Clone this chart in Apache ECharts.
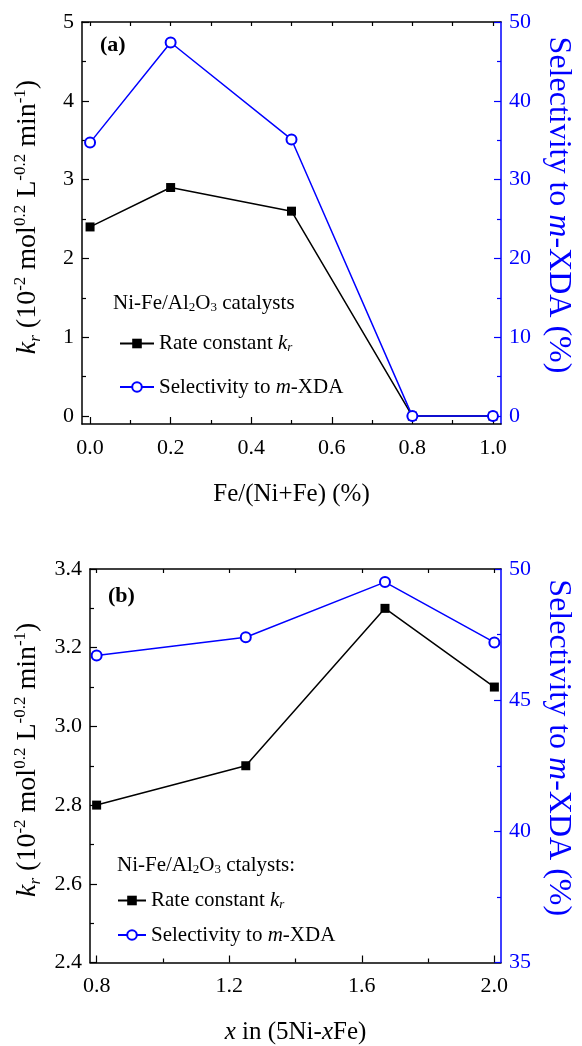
<!DOCTYPE html>
<html>
<head>
<meta charset="utf-8">
<script src="https://cdn.jsdelivr.net/npm/echarts@6/dist/echarts.min.js"></script>
<style>
  html, body { margin: 0; padding: 0; background: #fff; }
  #chart { width: 582px; height: 1046px; }
</style>
</head>
<body>
<div id="chart"></div>
<script>
// panel (a)
const feRatio = [0, 0.2, 0.5, 0.8, 1.0];
const rateA = [2.4, 2.9, 2.6, 0, 0];
const selA = [34.7, 47.4, 35.1, 0, 0];
// panel (b)
const xFe = [0.8, 1.25, 1.67, 2.0];
const rateB = [2.8, 2.9, 3.3, 3.1];
const selB = [46.7, 47.4, 49.5, 47.2];

// tick labels
const ticksAx = [0, 0.2, 0.4, 0.6, 0.8, 1.0];
const minorAx = [0.1, 0.3, 0.5, 0.7, 0.9];
const ticksAyL = [0, 1, 2, 3, 4, 5];
const minorAyL = [0.5, 1.5, 2.5, 3.5, 4.5];
const ticksAyR = [0, 10, 20, 30, 40, 50];
const minorAyR = [5, 15, 25, 35, 45];
const ticksBx = [0.8, 1.2, 1.6, 2.0];
const minorBx = [1.0, 1.4, 1.8];
const ticksByL = [2.4, 2.6, 2.8, 3.0, 3.2, 3.4];
const minorByL = [2.5, 2.7, 2.9, 3.1, 3.3];
const ticksByR = [35, 40, 45, 50];
const minorByR = [37.5, 42.5, 47.5];

const FONT = 'Liberation Serif';
const BLUE = '#0000ff';

function tok(size, lh, extra) {
  return Object.assign({ fontFamily: FONT, fontSize: size, lineHeight: lh, color: '#000',
    fontWeight: 'normal', verticalAlign: 'middle' }, extra || {});
}

// left axis title
const kRich = {
  n: tok(28, 32),
  i: tok(28, 32, { fontStyle: 'italic' }),
  sup: tok(17, 16, { verticalAlign: 'top' }),
  subi: tok(17, 16, { fontStyle: 'italic', verticalAlign: 'bottom' })
};
// right axis title
const sRich = {
  n: tok(32, 34, { color: BLUE }),
  i: tok(32, 34, { color: BLUE, fontStyle: 'italic' })
};
// x axis titles
const xRich = {
  n: tok(25, 28),
  i: tok(25, 28, { fontStyle: 'italic' })
};
// legend + header
const legRich = {
  n: tok(21, 22),
  i: tok(21, 22, { fontStyle: 'italic' }),
  sub: tok(13, 12, { verticalAlign: 'bottom' }),
  subi: tok(13, 12, { fontStyle: 'italic', verticalAlign: 'bottom' })
};

const kName = '{i|k}{subi|r}{n| (10}{sup|-2}{n| mol}{sup|0.2}{n| L}{sup|-0.2}{n| min}{sup|-1}{n|)}';
const selName = '{n|Selectivity to }{i|m}{n|-XDA (%)}';

function fmt1(v) { return v.toFixed(1); }
function fmt0(v) { return String(Math.round(v)); }

// main + minor tick axes, plus a top mirror with ticks
function xAxes(grid, min, max, major, minor, top, title) {
  return [
    {
      type: 'value', gridIndex: grid, min: min, max: max, position: 'bottom',
      splitLine: { show: false },
      axisLine: { onZero: false, lineStyle: { color: '#000', width: 1.5 } },
      axisTick: { inside: true, length: 7, customValues: major, lineStyle: { color: '#000', width: 1.2 } },
      axisLabel: { customValues: major, formatter: fmt1, color: '#000', fontFamily: FONT, fontSize: 22, margin: 13 },
      name: title, nameLocation: 'middle', nameGap: 56,
      nameTextStyle: { rich: xRich }
    },
    {
      type: 'value', gridIndex: grid, min: min, max: max, position: 'bottom',
      splitLine: { show: false }, axisLine: { show: false, onZero: false }, axisLabel: { show: false },
      axisTick: { inside: true, length: 4, customValues: minor, lineStyle: { color: '#000', width: 1.2 } }
    },
    {
      type: 'value', gridIndex: grid, min: min, max: max, position: 'top',
      splitLine: { show: false }, axisLabel: { show: false },
      axisLine: { onZero: false, lineStyle: { color: '#000', width: 1.5 } },
      axisTick: { inside: true, length: 4, customValues: top, lineStyle: { color: '#000', width: 1.2 } }
    }
  ];
}

function yAxes(grid, minL, maxL, majL, minrL, fmtL, minR, maxR, majR, minrR) {
  return [
    {
      type: 'value', gridIndex: grid, min: minL, max: maxL, position: 'left',
      splitLine: { show: false },
      axisLine: { show: true, onZero: false, lineStyle: { color: '#000', width: 1.5 } },
      axisTick: { inside: true, length: 7, customValues: majL, lineStyle: { color: '#000', width: 1.2 } },
      axisLabel: { customValues: majL, formatter: fmtL, color: '#000', fontFamily: FONT, fontSize: 22, margin: 8 },
      name: kName, nameLocation: 'middle', nameRotate: 90, nameGap: 38,
      nameTextStyle: { rich: kRich, padding: [0, 0, 0, 12] }
    },
    {
      type: 'value', gridIndex: grid, min: minL, max: maxL, position: 'left',
      splitLine: { show: false }, axisLine: { show: false, onZero: false }, axisLabel: { show: false },
      axisTick: { inside: true, length: 4, customValues: minrL, lineStyle: { color: '#000', width: 1.2 } }
    },
    {
      type: 'value', gridIndex: grid, min: minR, max: maxR, position: 'right',
      splitLine: { show: false },
      axisLine: { show: true, onZero: false, lineStyle: { color: BLUE, width: 1.5 } },
      axisTick: { inside: true, length: 7, customValues: majR, lineStyle: { color: BLUE, width: 1.2 } },
      axisLabel: { customValues: majR, formatter: fmt0, color: BLUE, fontFamily: FONT, fontSize: 22, margin: 8 },
      name: selName, nameLocation: 'middle', nameRotate: -90, nameGap: 40,
      nameTextStyle: { rich: sRich, padding: [0, 36, 0, 0] }
    },
    {
      type: 'value', gridIndex: grid, min: minR, max: maxR, position: 'right',
      splitLine: { show: false }, axisLine: { show: false, onZero: false }, axisLabel: { show: false },
      axisTick: { inside: true, length: 4, customValues: minrR, lineStyle: { color: BLUE, width: 1.2 } }
    }
  ];
}

function pairs(xs, ys) { return xs.map((x, i) => [x, ys[i]]); }

function kSeries(xi, yi, data) {
  return {
    name: 'kr', type: 'line', xAxisIndex: xi, yAxisIndex: yi, data: data,
    symbol: 'rect', symbolSize: 9, z: 3,
    lineStyle: { color: '#000', width: 1.5 },
    itemStyle: { color: '#000' }
  };
}
function sSeries(xi, yi, data) {
  return {
    name: 'sel', type: 'line', xAxisIndex: xi, yAxisIndex: yi, data: data,
    symbol: 'circle', symbolSize: 10, z: 4,
    lineStyle: { color: BLUE, width: 1.5 },
    itemStyle: { color: '#fff', borderColor: BLUE, borderWidth: 2 }
  };
}

function legendFmt(name) {
  return name === 'kr' ? '{n|Rate constant }{i|k}{subi|r}' : '{n|Selectivity to }{i|m}{n|-XDA}';
}

const labelStyle = { fontFamily: FONT, fontSize: 22, fontWeight: 'bold', color: '#000' };

const chart = echarts.init(document.getElementById('chart'));
chart.setOption({
  animation: false,
  backgroundColor: '#fff',
  grid: [
    { left: 82, right: 74, top: 22, height: 402 },
    { left: 90, right: 66, top: 569, height: 402 }
  ],
  xAxis: xAxes(0, -0.02, 1.02, ticksAx, minorAx, minorAx.concat(ticksAx),
      '{n|Fe/(Ni+Fe) (%)}')
    .concat(xAxes(1, 0.78, 2.02, ticksBx, minorBx, minorBx.concat(ticksBx),
      '{i|x}{n| in (5Ni-}{i|x}{n|Fe)}')),
  yAxis: yAxes(0, -0.1, 5, ticksAyL, minorAyL, fmt0, -1, 50, ticksAyR, minorAyR)
    .concat(yAxes(1, 2.4, 3.4, ticksByL, minorByL, fmt1, 35, 50, ticksByR, minorByR)),
  title: [
    { text: '(a)', left: 100, top: 34, padding: 0, textStyle: labelStyle },
    { text: '(b)', left: 108, top: 585, padding: 0, textStyle: labelStyle },
    { text: '{n|Ni-Fe/Al}{sub|2}{n|O}{sub|3}{n| catalysts}', left: 113, top: 292, padding: 0,
      textStyle: { rich: legRich } },
    { text: '{n|Ni-Fe/Al}{sub|2}{n|O}{sub|3}{n| ctalysts:}', left: 117, top: 854, padding: 0,
      textStyle: { rich: legRich } }
  ],
  legend: [
    { data: ['kr', 'sel'], orient: 'vertical', left: 119, top: 333, padding: 0,
      itemWidth: 34, itemHeight: 12, itemGap: 22, formatter: legendFmt,
      textStyle: { rich: legRich } },
    { data: ['kr', 'sel'], orient: 'vertical', left: 117, top: 890, padding: 0,
      itemWidth: 28, itemHeight: 12, itemGap: 13, formatter: legendFmt,
      textStyle: { rich: legRich } }
  ],
  series: [
    kSeries(0, 0, pairs(feRatio, rateA)),
    sSeries(0, 2, pairs(feRatio, selA)),
    kSeries(3, 4, pairs(xFe, rateB)),
    sSeries(3, 6, pairs(xFe, selB))
  ]
});
</script>
</body>
</html>
